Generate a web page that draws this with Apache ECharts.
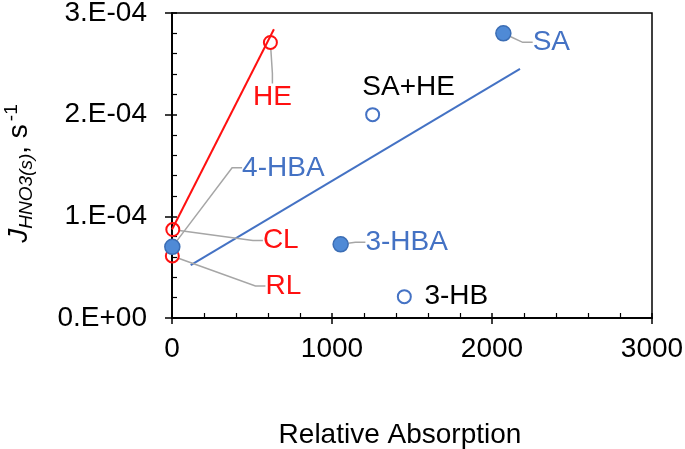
<!DOCTYPE html>
<html>
<head>
<meta charset="utf-8">
<script src="https://cdn.jsdelivr.net/npm/echarts@6/dist/echarts.min.js"></script>
<style>
html,body{margin:0;padding:0;background:#fff;}
#chart{width:685px;height:449px;}
</style>
</head>
<body>
<div id="chart"></div>
<script>
// ---- data ----
const redNames = ['CL', 'RL', 'HE'];
const redX = [5, 2, 615];
const redY = [8.7e-5, 6.1e-5, 2.71e-4];

const blueFilledNames = ['4-HBA', '3-HBA', 'SA'];
const blueFilledX = [2, 1054, 2071];
const blueFilledY = [7.0e-5, 7.25e-5, 2.80e-4];

const blueOpenNames = ['SA+HE', '3-HB'];
const blueOpenX = [1254, 1452];
const blueOpenY = [2.0e-4, 2.1e-5];

const redFitX = [0, 637];
const redFitY = [8.7e-5, 2.84e-4];
const blueFitX = [117, 2175];
const blueFitY = [5.2e-5, 2.45e-4];

const xTickLabels = ['0', '1000', '2000', '3000'];
const yTickLabels = ['0.E+00', '1.E-04', '2.E-04', '3.E-04'];

// ---- styling ----
const FONT = 'Liberation Sans, Arial, sans-serif';
const RED = '#ff1010';
const BLUE = '#4472c4';
const BLUE_TEXT = '#4472c4';
const BLUE_FILL = '#4f8ad6';
const BLUE_EDGE = '#3b6db4';
const LEADER = '#a6a6a6';

// label offsets (pixels) from marker centre, and whether a leader line is drawn
const labelStyle = {
  'CL':    {dx: 108, dy: 11,  line: true,  color: RED},
  'RL':    {dx: 111, dy: 30,  line: true,  color: RED},
  'HE':    {dx: 2,   dy: 55,  line: true,  color: RED},
  '4-HBA': {dx: 111, dy: -79, line: true,  color: BLUE_TEXT},
  '3-HBA': {dx: 66,  dy: -2,  line: true,  color: BLUE_TEXT},
  'SA':    {dx: 48,  dy: 9,   line: true,  color: BLUE_TEXT},
  'SA+HE': {dx: 36,  dy: -27, line: false, color: '#000'},
  '3-HB':  {dx: 52,  dy: 0,   line: false, color: '#000'}
};

function pts(xs, ys, names) {
  return xs.map((x, i) => {
    const d = {value: [x, ys[i]]};
    if (names) {
      d.name = names[i];
      const s = labelStyle[names[i]];
      d.label = {color: s.color};
      d.labelLine = {show: s.line};
    }
    return d;
  });
}

const labelCommon = {
  show: true,
  position: 'inside',
  formatter: p => p.name,
  fontFamily: FONT,
  fontSize: 28,
  textBorderWidth: 0,
  textBorderColor: 'transparent',
  textShadowBlur: 0
};
function layoutFn(names) {
  return function (p) {
    const s = labelStyle[names[p.dataIndex]];
    return {dx: s.dx, dy: s.dy};
  };
}
const lineCommon = {show: true, lineStyle: {color: LEADER, width: 1.5, opacity: 1}, length2: 10};

const chart = echarts.init(document.getElementById('chart'), null, {renderer: 'canvas'});

const axisBase = {
  min: 0,
  splitLine: {show: false},
  axisLine: {show: true, onZero: false, lineStyle: {color: '#000', width: 1.5}}
};

chart.setOption({
  animation: false,
  backgroundColor: '#fff',
  grid: {
    left: 172, right: 33, top: 13, bottom: 131,
    containLabel: false, outerBoundsMode: 'none',
    show: true, borderColor: '#000', borderWidth: 1.5, backgroundColor: 'transparent'
  },
  xAxis: [
    Object.assign({}, axisBase, {
      type: 'value', max: 3000, interval: 1000,
      axisTick: {show: true, inside: true, length: 5, lineStyle: {color: '#000', width: 1.5}},
      minorTick: {show: true, splitNumber: 5, length: 5, lineStyle: {color: '#000', width: 1.2}},
      axisLabel: {
        margin: 17, fontFamily: FONT, fontSize: 28, color: '#000',
        formatter: v => xTickLabels[Math.round(v / 1000)]
      },
      name: 'Relative Absorption', nameLocation: 'middle', nameGap: 103,
      nameTextStyle: {fontFamily: FONT, fontSize: 28, color: '#000', padding: [0, 24, 0, 0]}
    }),
    Object.assign({}, axisBase, {
      type: 'value', max: 3000, interval: 1000, position: 'bottom', offset: 0,
      axisLine: {show: true, lineStyle: {color: '#000', width: 1.5}},
      axisTick: {show: true, inside: false, length: 6, lineStyle: {color: '#000', width: 1.5}},
      axisLabel: {show: false}
    })
  ],
  yAxis: [
    Object.assign({}, axisBase, {
      type: 'value', max: 3e-4, interval: 1e-4, position: 'left',
      axisTick: {show: true, inside: true, length: 5, lineStyle: {color: '#000', width: 1.5}},
      minorTick: {show: true, splitNumber: 5, length: 5, lineStyle: {color: '#000', width: 1.2}},
      axisLabel: {
        margin: 25, fontFamily: FONT, fontSize: 28, color: '#000',
        formatter: v => yTickLabels[Math.round(v / 1e-4)]
      },
      name: '{j|J}{sub|HNO3(s)}{n|, s}{sup|-1}',
      nameLocation: 'middle', nameRotate: 90, nameGap: 136,
      nameTextStyle: {
        color: '#000',
        padding: [0, 16, 0, 0],
        rich: {
          j: {fontFamily: FONT, fontSize: 28, fontStyle: 'italic', color: '#000', lineHeight: 34, verticalAlign: 'middle'},
          sub: {fontFamily: FONT, fontSize: 19, fontStyle: 'italic', color: '#000', lineHeight: 18, verticalAlign: 'bottom'},
          n: {fontFamily: FONT, fontSize: 28, color: '#000', lineHeight: 34, verticalAlign: 'middle'},
          sup: {fontFamily: FONT, fontSize: 19, color: '#000', lineHeight: 18, verticalAlign: 'top', padding: [0, 0, 0, 3]}
        }
      }
    }),
    Object.assign({}, axisBase, {
      type: 'value', max: 3e-4, interval: 1e-4, position: 'left', offset: 0,
      axisLine: {show: true, lineStyle: {color: '#000', width: 1.5}},
      axisTick: {show: true, inside: false, length: 7, lineStyle: {color: '#000', width: 1.5}},
      axisLabel: {show: false}
    })
  ],
  series: [
    {
      type: 'line', name: 'red fit', data: pts(redFitX, redFitY),
      showSymbol: false, symbol: 'none', lineStyle: {color: RED, width: 2}, z: 2
    },
    {
      type: 'line', name: 'blue fit', data: pts(blueFitX, blueFitY),
      showSymbol: false, symbol: 'none', lineStyle: {color: BLUE, width: 2}, z: 2
    },
    {
      type: 'scatter', name: 'red', data: pts(redX, redY, redNames),
      symbol: 'circle', symbolSize: 13,
      itemStyle: {color: 'rgba(255,255,255,0)', borderColor: RED, borderWidth: 2, opacity: 1},
      label: Object.assign({}, labelCommon, {color: RED}),
      labelLayout: layoutFn(redNames),
      labelLine: lineCommon, z: 3
    },
    {
      type: 'scatter', name: 'blue open', data: pts(blueOpenX, blueOpenY, blueOpenNames),
      symbol: 'circle', symbolSize: 13,
      itemStyle: {color: 'rgba(255,255,255,0)', borderColor: BLUE, borderWidth: 2, opacity: 1},
      label: Object.assign({}, labelCommon, {color: '#000'}),
      labelLayout: layoutFn(blueOpenNames),
      labelLine: lineCommon, z: 3
    },
    {
      type: 'scatter', name: 'blue filled', data: pts(blueFilledX, blueFilledY, blueFilledNames),
      symbol: 'circle', symbolSize: 15,
      itemStyle: {color: BLUE_FILL, borderColor: BLUE_EDGE, borderWidth: 1.5, opacity: 1},
      label: Object.assign({}, labelCommon, {color: BLUE_TEXT}),
      labelLayout: layoutFn(blueFilledNames),
      labelLine: lineCommon, z: 4
    }
  ]
});
</script>
</body>
</html>
